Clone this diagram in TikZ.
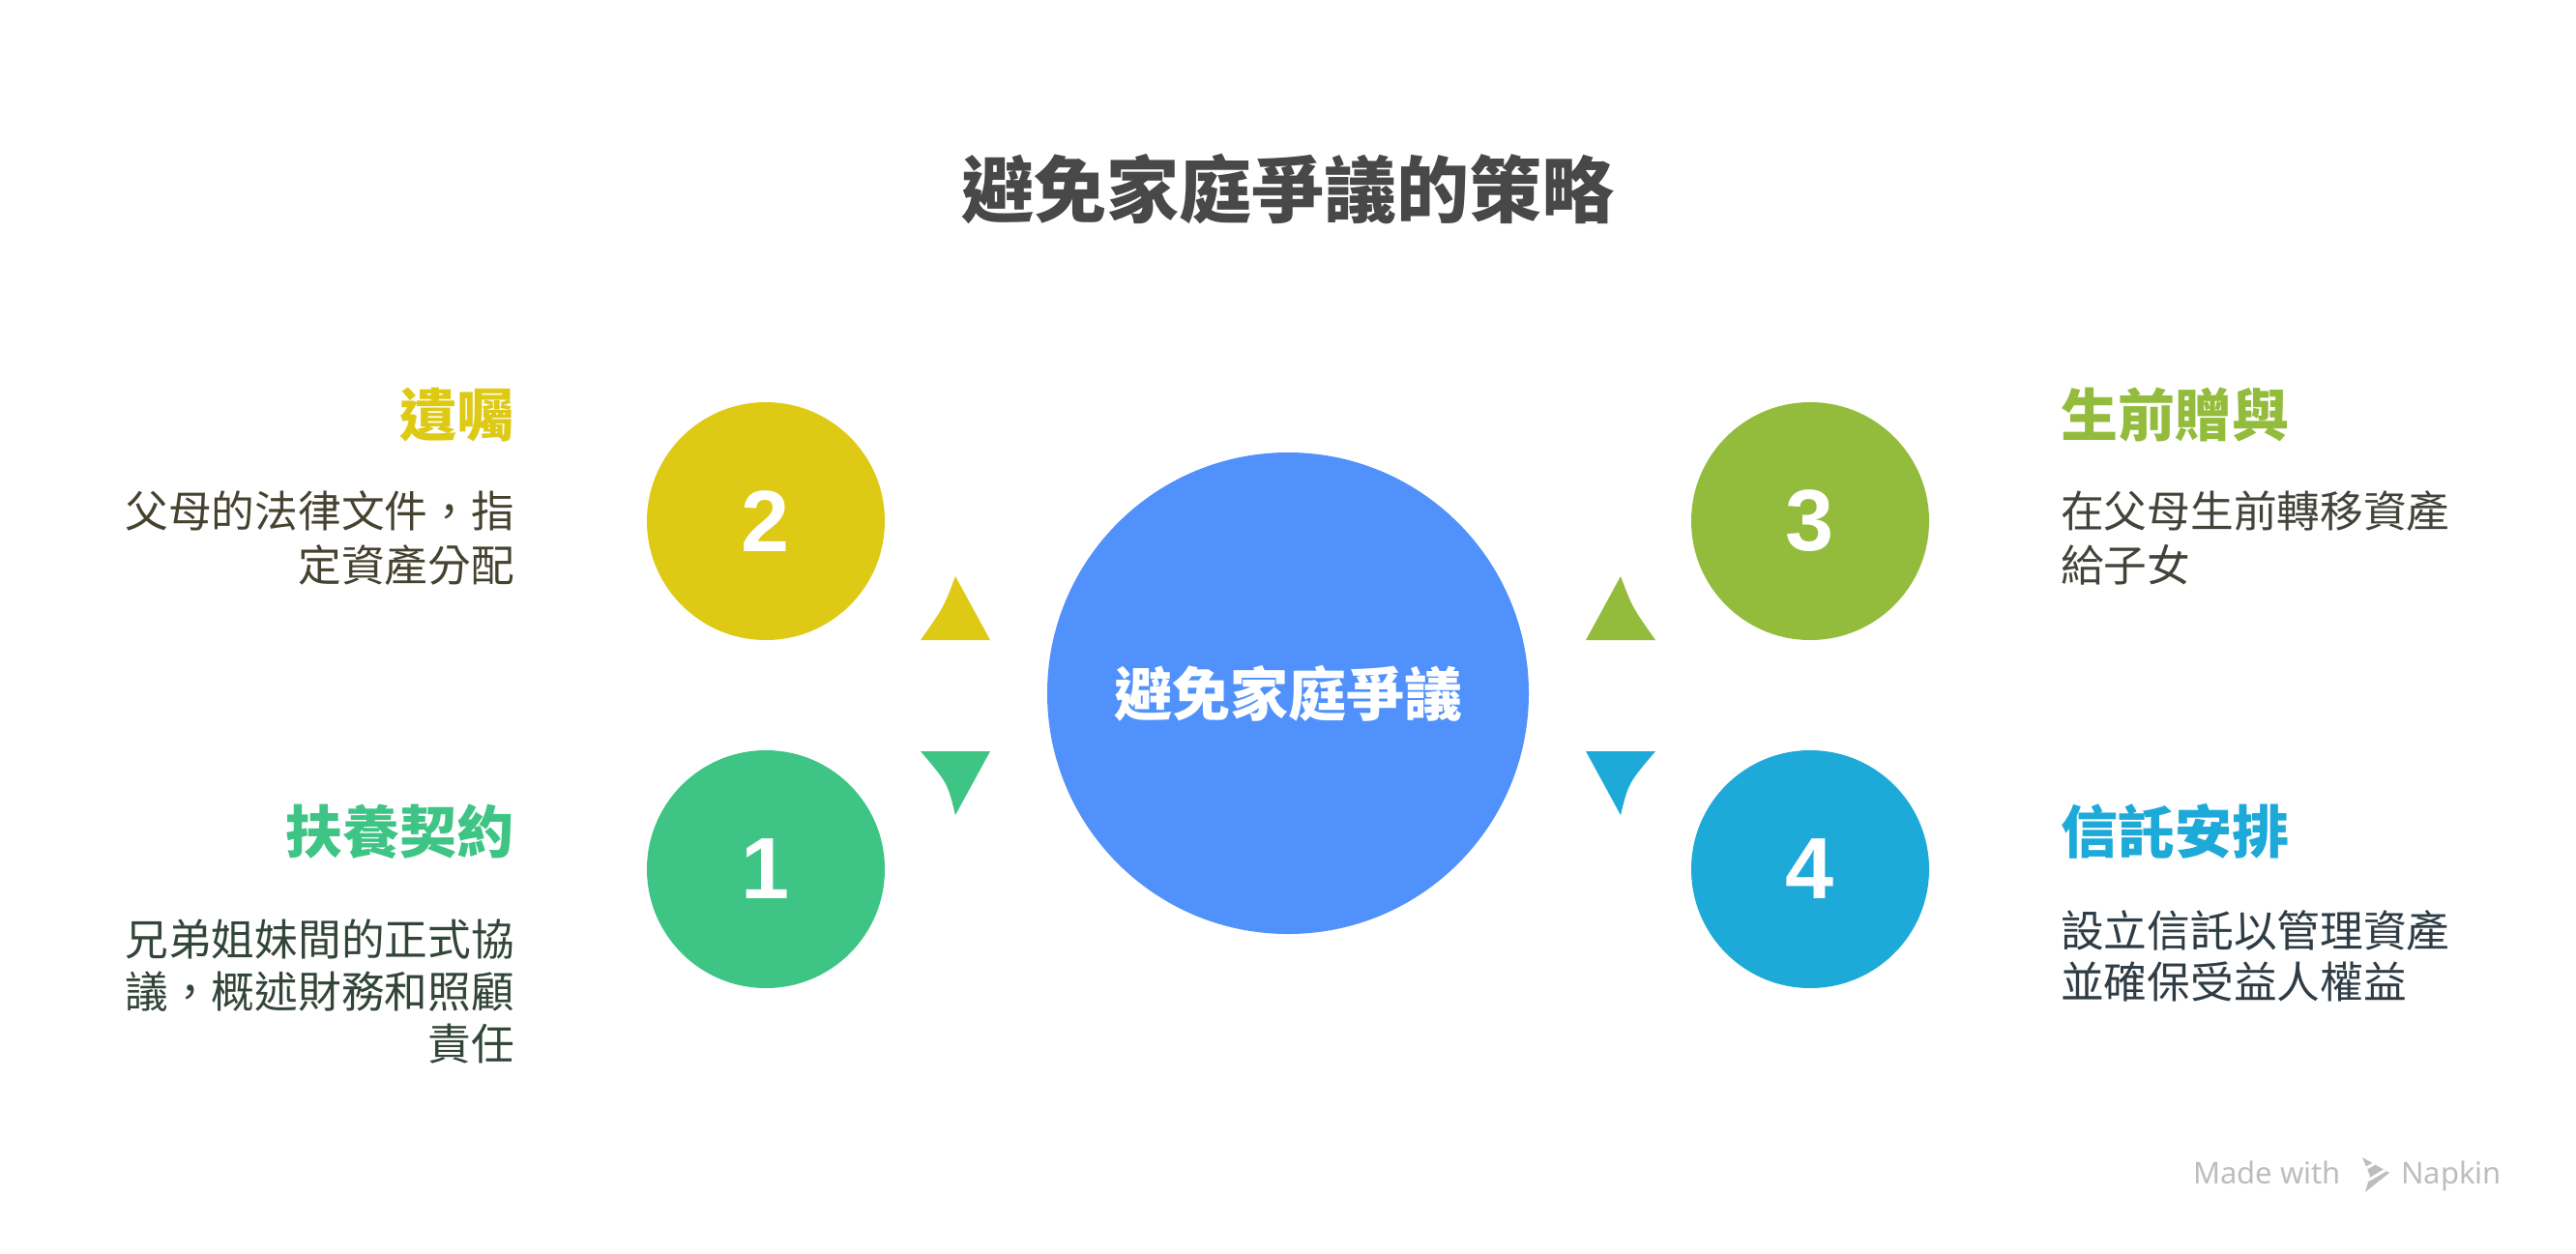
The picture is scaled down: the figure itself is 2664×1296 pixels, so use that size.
\documentclass[tikz,border=0pt]{standalone}
\usepackage{fontspec}
\newfontfamily\cjk{Noto Sans CJK TC}
\newfontfamily\numfont{Liberation Sans}
\newfontfamily\wmfont{Noto Sans}
\definecolor{titlegray}{HTML}{484848}
\definecolor{cyellow}{HTML}{DECA15}
\definecolor{cgreen}{HTML}{3EC585}
\definecolor{colive}{HTML}{94BC3C}
\definecolor{cblue}{HTML}{1EAAD9}
\definecolor{chub}{HTML}{5191FC}
\definecolor{dyellow}{HTML}{45432F}
\definecolor{dgreen}{HTML}{324539}
\definecolor{dolive}{HTML}{42443A}
\definecolor{dblue}{HTML}{2F3C45}
\definecolor{wmgray}{HTML}{BDBDBD}
\tikzset{
  titletext/.style={font=\cjk\bfseries\fontsize{75}{90}\selectfont, text=titlegray, inner sep=0, anchor=base},
  headtext/.style={font=\cjk\bfseries\fontsize{59}{70}\selectfont, inner sep=0},
  desctext/.style={font=\cjk\fontsize{44.7}{56}\selectfont, inner sep=0},
  numcircle/.style={circle, inner sep=0, minimum size=246pt, text=white, font=\numfont\bfseries\fontsize{90}{100}\selectfont},
  hubcircle/.style={circle, inner sep=0, minimum size=498pt, fill=chub, text=white, font=\cjk\bfseries\fontsize{60}{70}\selectfont},
  wmtext/.style={font=\wmfont\fontsize{31}{36}\selectfont, text=wmgray, inner sep=0, anchor=base west}
}
\begin{document}
\begin{tikzpicture}[x=1pt,y=-1pt]
\useasboundingbox (0,0) rectangle (2664,1296);
\fill[white] (0,0) rectangle (2664,1296);

% title
\node[titletext] (title) at (1332,224) {避免家庭爭議的策略};

% hub
\node[hubcircle] (hub) at (1332,717) {避免家庭爭議};

% numbered circles
\node[numcircle, fill=cyellow] (c2) at (792,539) {2};
\node[numcircle, fill=cgreen] (c1) at (792,899) {1};
\node[numcircle, fill=colive] (c3) at (1872,539) {3};
\node[numcircle, fill=cblue] (c4) at (1872,899) {4};

% arrow triangles
\fill[cyellow] (988,596) .. controls (976,628) .. (952,662) -- (1024,662) -- cycle;
\fill[cgreen] (952,777) -- (1024,777) -- (988,843) .. controls (980,810) .. (952,777) -- cycle;
\fill[colive] (1676,596) .. controls (1688,628) .. (1712,662) -- (1640,662) -- cycle;
\fill[cblue] (1640,777) -- (1712,777) .. controls (1684,810) .. (1676,843) -- cycle;

% left texts
\node[headtext, text=cyellow, anchor=base east] (h2) at (532,451) {遺囑};
\node[desctext, text=dyellow, anchor=base east] (d2a) at (532,545) {父母的法律文件，指};
\node[desctext, text=dyellow, anchor=base east] (d2b) at (532,601) {定資產分配};

\node[headtext, text=cgreen, anchor=base east] (h1) at (532,882) {扶養契約};
\node[desctext, text=dgreen, anchor=base east] (d1a) at (532,988) {兄弟姐妹間的正式協};
\node[desctext, text=dgreen, anchor=base east] (d1b) at (532,1042) {議，概述財務和照顧};
\node[desctext, text=dgreen, anchor=base east] (d1c) at (532,1096) {責任};

% right texts
\node[headtext, text=colive, anchor=base west] (h3) at (2131,451) {生前贈與};
\node[desctext, text=dolive, anchor=base west] (d3a) at (2131,545) {在父母生前轉移資產};
\node[desctext, text=dolive, anchor=base west] (d3b) at (2131,601) {給子女};

\node[headtext, text=cblue, anchor=base west] (h4) at (2131,882) {信託安排};
\node[desctext, text=dblue, anchor=base west] (d4a) at (2131,979) {設立信託以管理資產};
\node[desctext, text=dblue, anchor=base west] (d4b) at (2131,1032) {並確保受益人權益};

% watermark
\node[wmtext] (wm1) at (2268,1224) {Made with};
\node[wmtext] (wm2) at (2483,1224) {Napkin};
\begin{scope}
  \clip (2443,1197) -- (2471,1213) -- (2446,1233) -- (2451,1216) -- cycle;
  \fill[wmgray] (2440,1195) rectangle (2475,1235);
  \draw[white, line width=3pt] (2440,1212) -- (2462,1200);
  \draw[white, line width=3pt] (2440,1226) -- (2474,1206);
\end{scope}
\end{tikzpicture}
\end{document}
